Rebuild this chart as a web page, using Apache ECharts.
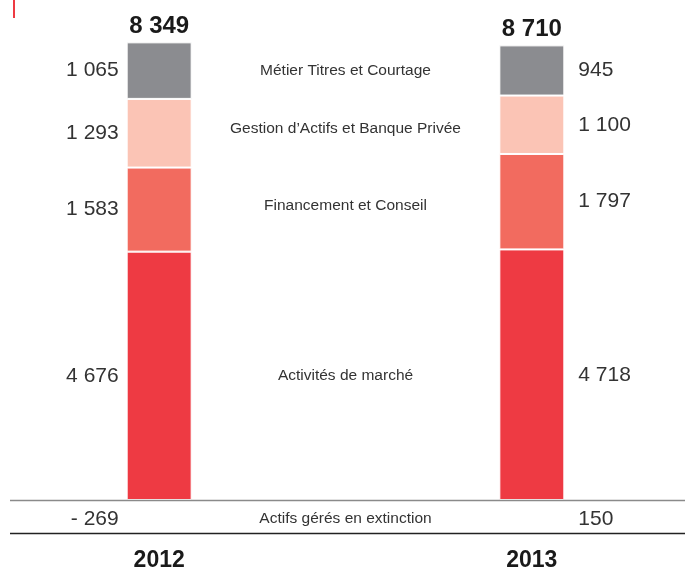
<!DOCTYPE html>
<html>
<head>
<meta charset="utf-8">
<script src="https://cdn.jsdelivr.net/npm/echarts@6/dist/echarts.min.js"></script>
<style>
html,body{margin:0;padding:0;background:#fff;}
#chart{width:685px;height:570px;}
</style>
</head>
<body>
<div id="chart"></div>
<script>
var years = ['2012', '2013'];
var segments = ['Activités de marché', 'Financement et Conseil', 'Gestion d\u2019Actifs et Banque Privée', 'Métier Titres et Courtage'];
var values2012 = [4676, 1583, 1293, 1065];
var values2013 = [4718, 1797, 1100, 945];
var totals = ['8 349', '8 710'];
var extinctionLabel = 'Actifs gérés en extinction';
var extinction = ['- 269', '150'];
var colors = ['#ee3a43', '#f26b5f', '#fbc4b5', '#8b8c90'];

var FONT = '"Liberation Sans", Arial, sans-serif';
var categories = [years[0], '', years[1]];

function fmt(v) {
  var s = String(v);
  return s.length > 3 ? s.slice(0, s.length - 3) + ' ' + s.slice(-3) : s;
}

var series = segments.map(function (name, i) {
  return {
    name: name,
    type: 'bar',
    stack: 'total',
    barWidth: 65,
    itemStyle: { color: colors[i], borderColor: '#ffffff', borderWidth: 1 },
    emphasis: { disabled: true },
    label: { show: false },
    data: [
      {
        value: values2012[i],
        label: { show: true, position: 'left', distance: 8, formatter: fmt(values2012[i]),
                 color: '#333', fontSize: 21, fontFamily: FONT }
      },
      {
        value: (values2012[i] + values2013[i]) / 2,
        itemStyle: { color: 'rgba(0,0,0,0)', borderWidth: 0 },
        label: { show: true, position: 'inside', formatter: name,
                 color: '#333', fontSize: 15.5, fontFamily: FONT }
      },
      {
        value: values2013[i],
        label: { show: true, position: 'right', distance: 14, formatter: fmt(values2013[i]),
                 color: '#333', fontSize: 21, fontFamily: FONT }
      }
    ]
  };
});

// totals on top
series.push({
  name: 'totals',
  type: 'bar',
  stack: 'total',
  barWidth: 65,
  itemStyle: { color: 'rgba(0,0,0,0)' },
  emphasis: { disabled: true },
  label: {
    show: true, position: 'insideBottom', distance: 4,
    formatter: function (p) { return p.dataIndex === 0 ? totals[0] : (p.dataIndex === 2 ? totals[1] : ''); },
    color: '#1a1a1a', fontSize: 24, fontWeight: 'bold', fontFamily: FONT
  },
  data: [1, 0, 1]
});

var chart = echarts.init(document.getElementById('chart'), null, { renderer: 'canvas' });
chart.setOption({
  animation: false,
  backgroundColor: '#ffffff',
  grid: { left: 66, right: 60, top: 22, bottom: 70, containLabel: false, outerBoundsMode: 'none' },
  xAxis: {
    type: 'category',
    data: categories,
    axisLine: { show: false },
    axisTick: { show: false },
    axisLabel: { show: true, margin: 49, color: '#1a1a1a', fontSize: 23, fontWeight: 'bold', fontFamily: FONT }
  },
  yAxis: {
    type: 'value', min: 0, max: 9000, show: false, splitLine: { show: false }
  },
  series: series
});

var x0 = chart.convertToPixel({ xAxisIndex: 0 }, categories[0]);
var x1 = chart.convertToPixel({ xAxisIndex: 0 }, categories[1]);
var x2 = chart.convertToPixel({ xAxisIndex: 0 }, categories[2]);
var yBase = chart.convertToPixel({ yAxisIndex: 0 }, 0);
var half = 65 / 2;

chart.setOption({
  graphic: [
    { type: 'rect', shape: { x: 13, y: 0, width: 2, height: 18 }, style: { fill: '#ee3a43' } },
    { type: 'line', shape: { x1: 10, y1: yBase + 0.5, x2: 685, y2: yBase + 0.5 }, style: { stroke: '#8a8a8a', lineWidth: 1.5 }, z: 10 },
    { type: 'line', shape: { x1: 10, y1: yBase + 33.5, x2: 685, y2: yBase + 33.5 }, style: { stroke: '#222', lineWidth: 1.5 } },
    { type: 'text', x: x0 - half - 8, y: yBase + 19, style: { text: extinction[0], align: 'right', verticalAlign: 'middle', fill: '#333', font: '21px ' + FONT } },
    { type: 'text', x: x1, y: yBase + 19, style: { text: extinctionLabel, align: 'center', verticalAlign: 'middle', fill: '#333', font: '15.5px ' + FONT } },
    { type: 'text', x: x2 + half + 14, y: yBase + 19, style: { text: extinction[1], align: 'left', verticalAlign: 'middle', fill: '#333', font: '21px ' + FONT } }
  ]
});
</script>
</body>
</html>
